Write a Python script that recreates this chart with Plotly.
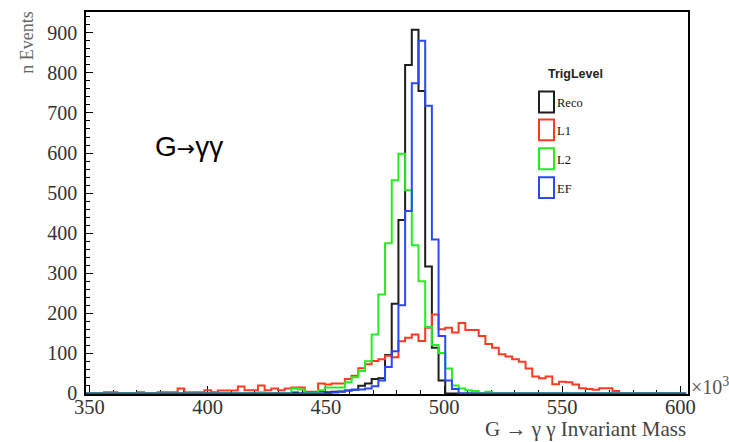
import plotly.graph_objects as go

# ---------------- data ----------------
BIN_START = 347.7      # x of first bin edge (x10^3)
BIN_WIDTH = 2.83
N_BINS = 90

reco = [0]*31 + [2, 0, 3, 2, 5, 3, 4, 5, 7, 9, 19, 25, 36, 38, 96, 224, 433, 820, 908, 755,
                 317, 114, 32] + [0]*36
l1 = [0, 0, 0, 3, 3, 0, 0, 0, 3, 0, 0, 3, 3, 3, 12, 3, 3, 3, 8, 3,
      7, 7, 7, 17, 8, 8, 20, 8, 12, 8, 12, 15, 15, 4, 4, 25, 22, 25, 25, 36,
      44, 63, 73, 81, 85, 94, 90, 130, 139, 147, 131, 164, 197, 160, 164, 152, 176, 158, 158, 143,
      123, 114, 98, 92, 85, 79, 62, 42, 38, 42, 23, 29, 28, 22, 13, 11, 9, 13, 13, 6,
      0, 0, 0, 0, 0, 0, 0, 0, 0, 0]
l2 = [0]*26 + [3, 0, 0, 0, 0, 12, 10, 1, 1, 8, 15, 15, 15, 28, 40, 56, 80, 147, 247, 375,
               532, 598, 507, 370, 280, 166, 121, 101, 62, 20, 12, 8, 6, 0, 4] + [0]*29
ef = [0]*37 + [2, 4, 7, 9, 10, 12, 18, 32, 66, 105, 220, 455, 774, 880, 718, 384, 143, 32,
               11] + [0]*34

series_names = ["Reco", "L1", "L2", "EF"]
series_values = [reco, l1, l2, ef]
series_colors = ["#1e1e1e", "#ff3a22", "#22ee22", "#2a48ff"]

x_ticks = [350, 400, 450, 500, 550, 600]
y_ticks = [0, 100, 200, 300, 400, 500, 600, 700, 800, 900]

# ---------------- figure ----------------
W, H = 729, 442
ML, MR, MT, MB = 86, 41, 10, 48
PW, PH = W - ML - MR, H - MT - MB

def px2paper_x(px):
    return (px - ML) / PW

def px2paper_y(py):
    return (H - MB - py) / PH

edges = [BIN_START + i * BIN_WIDTH for i in range(N_BINS + 1)]

fig = go.Figure()
for name, vals, col in zip(series_names, series_values, series_colors):
    fig.add_trace(go.Scatter(
        x=edges, y=list(vals) + [vals[-1]], mode="lines", name=name,
        line=dict(color=col, width=2, shape="hv"), showlegend=False,
        hoverinfo="skip"))

serif = "Liberation Serif, Times New Roman, serif"
sans = "Liberation Sans, Arial, sans-serif"

fig.update_layout(
    width=W, height=H,
    margin=dict(l=ML, r=MR, t=MT, b=MB, pad=0),
    paper_bgcolor="white", plot_bgcolor="white",
    xaxis=dict(range=[348.56, 603.2], tickvals=x_ticks, ticktext=[str(v) for v in x_ticks],
               ticks="inside", ticklen=8, tickwidth=1, tickcolor="black",
               minor=dict(ticks="inside", ticklen=4, dtick=10, tick0=350, tickcolor="black"),
               showline=True, linecolor="black", linewidth=1.5, mirror=True,
               showgrid=False, zeroline=False, layer="below traces",
               tickfont=dict(family=serif, size=20.5, color="#333"),
               ticklabelstandoff=-6),
    yaxis=dict(range=[-1.5, 952], tickvals=y_ticks,
               ticks="inside", ticklen=7, tickwidth=1, tickcolor="black",
               minor=dict(ticks="inside", ticklen=4, dtick=20, tick0=0, tickcolor="black"),
               showline=True, linecolor="black", linewidth=1.5, mirror=True,
               showgrid=False, zeroline=False, layer="below traces",
               tickfont=dict(family=serif, size=20, color="#333"),
               ticklabelstandoff=3),
)

ann = []
# axis titles
ann.append(dict(text="G \u2192 \u03b3 \u03b3 Invariant Mass", xref="paper", yref="paper",
                x=1.0, y=px2paper_y(429), xanchor="right", yanchor="middle", showarrow=False,
                font=dict(family=serif, size=21, color="#444")))
ann.append(dict(text="n Events", xref="paper", yref="paper", textangle=-90,
                x=px2paper_x(27), y=px2paper_y(41), xanchor="center", yanchor="middle",
                showarrow=False, font=dict(family=serif, size=18, color="#666")))
ann.append(dict(text="\u00d710<sup>3</sup>", xref="paper", yref="paper",
                x=px2paper_x(689), y=px2paper_y(386), xanchor="left", yanchor="middle",
                showarrow=False, font=dict(family=serif, size=20, color="#555")))
# in-plot label
ann.append(dict(text="G<span style='font-family:DejaVu Sans;font-size:22px'>\u2192</span>\u03b3\u03b3",
                xref="paper", yref="paper",
                x=px2paper_x(153), y=px2paper_y(145), xanchor="left", yanchor="middle",
                showarrow=False, font=dict(family=sans, size=28, color="black")))
# legend title
ann.append(dict(text="<b>TrigLevel</b>", xref="paper", yref="paper",
                x=px2paper_x(546), y=px2paper_y(72), xanchor="left", yanchor="middle",
                showarrow=False, font=dict(family=sans, size=12.5, color="#222")))

shapes = []
box_top = [90, 118, 147, 176]
box_h = 21
for name, col, top in zip(series_names, series_colors, box_top):
    shapes.append(dict(type="rect", xref="paper", yref="paper",
                       x0=px2paper_x(539), x1=px2paper_x(554),
                       y0=px2paper_y(top + box_h), y1=px2paper_y(top),
                       line=dict(color=col, width=2), fillcolor="rgba(0,0,0,0)"))
    ann.append(dict(text=name, xref="paper", yref="paper",
                    x=px2paper_x(555), y=px2paper_y(top + box_h / 2 + 1),
                    xanchor="left", yanchor="middle", showarrow=False,
                    font=dict(family=serif, size=12.5, color="#111")))

fig.update_layout(annotations=ann, shapes=shapes)
fig.write_html("out.html", config={"displayModeBar": False},
               post_script="document.body.style.margin='0';")
